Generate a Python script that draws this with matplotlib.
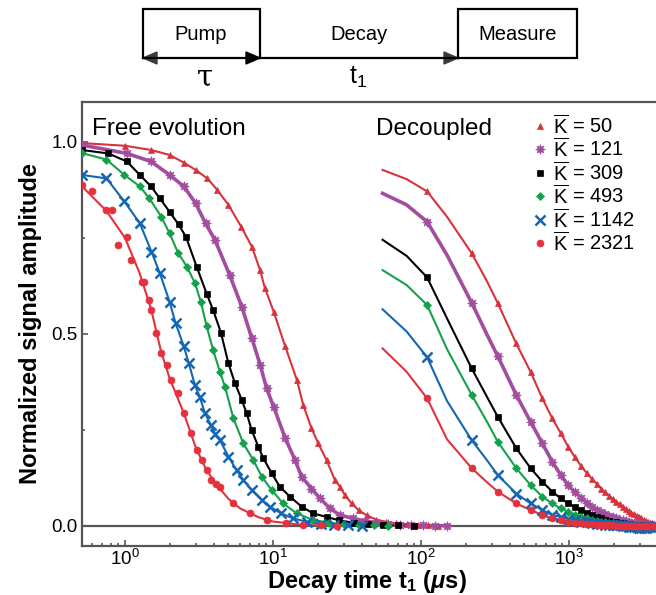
import numpy as np
import matplotlib
matplotlib.use("Agg")
import matplotlib.pyplot as plt
from matplotlib.patches import Polygon

plt.rcParams['font.family'] = ['Liberation Sans', 'DejaVu Sans']
plt.rcParams['mathtext.fontset'] = 'custom'
plt.rcParams['mathtext.rm'] = 'Liberation Sans'
plt.rcParams['mathtext.it'] = 'Liberation Sans:italic'
plt.rcParams['mathtext.bf'] = 'Liberation Sans:bold'
plt.rcParams['mathtext.bfit'] = 'Liberation Sans:bold:italic'

# ---------------- data ----------------
labels = ["50", "121", "309", "493", "1142", "2321"]
colors = ["#d8323c", "#a24d9f", "#000000", "#15a04a", "#1466b3", "#e3313d"]
markers = ["^", (8, 1, 0), "s", "D", "x", "o"]

# Free evolution (markers)
free_t_50 = [0.51, 1.0, 1.5, 2.0, 2.5, 3.0, 3.6, 4.2, 5.0, 6.1, 7.2, 8.2, 8.8, 10.1, 12.1, 14.5, 16.0, 18.2,
             20.2, 23.0, 26.2, 28.3, 30.6, 34.0, 38, 43, 50, 58, 68, 80, 95, 112, 130]
free_v_50 = [0.997, 0.99, 0.979, 0.966, 0.946, 0.927, 0.905, 0.875, 0.836, 0.779, 0.727, 0.665, 0.62, 0.558,
             0.467, 0.38, 0.315, 0.254, 0.215, 0.171, 0.119, 0.102, 0.08, 0.058, 0.04, 0.027, 0.016, 0.01,
             0.006, 0.004, 0.002, 0.001, 0.0]
free_t_121 = [0.51, 1.03, 1.5, 2.0, 2.5, 3.0, 3.5, 4.05, 5.1, 6.15, 7.2, 8.2, 9.05, 10.1, 12.1, 14.1, 15.6,
              18.2, 20.8, 24.3, 28.3, 34.8, 42, 50, 60, 72, 86, 103, 125, 150]
free_v_121 = [0.992, 0.97, 0.949, 0.914, 0.884, 0.84, 0.788, 0.745, 0.653, 0.571, 0.488, 0.419, 0.358, 0.31,
              0.228, 0.171, 0.128, 0.097, 0.071, 0.045, 0.028, 0.019, 0.012, 0.008, 0.005, 0.003, 0.002,
              0.001, 0.0, 0.0]
free_t_309 = [0.51, 0.77, 1.03, 1.26, 1.5, 1.72, 2.0, 2.3, 2.58, 3.05, 3.56, 3.94, 4.45, 5.0, 5.54, 6.15,
              6.64, 7.18, 7.96, 8.6, 9.8, 11.1, 13.0, 15.6, 18.7, 23, 28, 35, 44, 55, 70, 90]
free_v_309 = [0.979, 0.97, 0.949, 0.914, 0.884, 0.853, 0.818, 0.785, 0.753, 0.675, 0.605, 0.562, 0.503,
              0.423, 0.371, 0.328, 0.293, 0.249, 0.206, 0.176, 0.137, 0.102, 0.076, 0.05, 0.032, 0.023,
              0.014, 0.008, 0.004, 0.002, 0.001, 0.0]
free_t_493 = [0.51, 0.75, 0.99, 1.26, 1.46, 1.76, 2.0, 2.29, 2.62, 2.97, 3.25, 3.56, 3.94, 4.38, 4.74, 5.4,
              6.3, 7.36, 8.4, 9.8, 11.7, 14.5, 18.7, 24, 30, 38, 48, 60]
free_v_493 = [0.971, 0.954, 0.914, 0.884, 0.853, 0.805, 0.762, 0.71, 0.675, 0.632, 0.584, 0.52, 0.458,
              0.401, 0.362, 0.28, 0.215, 0.171, 0.128, 0.093, 0.058, 0.032, 0.015, 0.008, 0.004, 0.002,
              0.001, 0.0]
free_t_1142 = [0.51, 0.75, 0.99, 1.26, 1.51, 1.72, 2.0, 2.2, 2.5, 2.7, 2.97, 3.2, 3.47, 3.8, 4.05, 4.38, 5.0,
               5.67, 6.3, 7.18, 8.4, 9.5, 11.4, 13.7, 17, 21, 26, 32, 40]
free_v_1142 = [0.914, 0.905, 0.845, 0.788, 0.714, 0.658, 0.584, 0.527, 0.467, 0.423, 0.366, 0.336, 0.293,
               0.263, 0.24, 0.223, 0.18, 0.145, 0.119, 0.093, 0.067, 0.05, 0.032, 0.019, 0.01, 0.005,
               0.002, 0.001, 0.0]
free_t_2321 = [0.51, 0.6, 0.75, 0.82, 0.9, 1.03, 1.1, 1.3, 1.35, 1.45, 1.5, 1.63, 1.76, 1.92, 2.04, 2.29,
               2.5, 2.8, 3.05, 3.3, 3.56, 3.8, 4.1, 4.38, 5.4, 7.0, 9.05, 12.3, 16, 21, 27]
free_v_2321 = [0.888, 0.871, 0.823, 0.823, 0.732, 0.753, 0.693, 0.636, 0.636, 0.589, 0.562, 0.501, 0.449,
               0.419, 0.38, 0.345, 0.293, 0.241, 0.197, 0.171, 0.145, 0.119, 0.108, 0.102, 0.058, 0.032,
               0.015, 0.006, 0.003, 0.001, 0.0]
# fit line for the scattered K=2321 free-evolution data
fit_t_2321 = [0.51, 0.75, 1.0, 1.25, 1.5, 1.75, 2.0, 2.5, 3.0, 3.5, 4.0, 5.0, 6.0, 8.0, 10, 15, 20, 30]
fit_v_2321 = [0.885, 0.82, 0.75, 0.66, 0.565, 0.455, 0.385, 0.293, 0.205, 0.15, 0.115, 0.07, 0.045, 0.022,
              0.011, 0.003, 0.001, 0.0]

free_t = [free_t_50, free_t_121, free_t_309, free_t_493, free_t_1142, free_t_2321]
free_v = [free_v_50, free_v_121, free_v_309, free_v_493, free_v_1142, free_v_2321]

# Decoupled (markers)
dec_t = [110, 220, 330, 440, 550, 660, 770, 880, 990, 1100, 1210, 1320, 1430, 1540, 1650, 1760, 1870,
         1980, 2090, 2200, 2310, 2420, 2530, 2640, 2750, 2860, 2970, 3080, 3190, 3300, 3410, 3520, 3630,
         3740, 3850]
dec_v_50 = [0.871, 0.71, 0.58, 0.475, 0.401, 0.332, 0.28, 0.241, 0.205, 0.178, 0.155, 0.137, 0.122, 0.109,
            0.097, 0.087, 0.078, 0.07, 0.063, 0.056, 0.05, 0.044, 0.039, 0.034, 0.03, 0.026, 0.022, 0.019,
            0.016, 0.013, 0.01, 0.008, 0.006, 0.004, 0.002]
dec_v_121 = [0.792, 0.581, 0.442, 0.341, 0.271, 0.215, 0.167, 0.132, 0.105, 0.087, 0.072, 0.06, 0.05,
             0.042, 0.036, 0.031, 0.026, 0.022, 0.019, 0.016, 0.014, 0.012, 0.01, 0.008, 0.007, 0.006,
             0.005, 0.004, 0.003, 0.002, 0.002, 0.001, 0.001, 0.0, 0.0]
dec_v_309 = [0.647, 0.41, 0.284, 0.202, 0.15, 0.115, 0.089, 0.071, 0.058, 0.048, 0.04, 0.033, 0.028,
             0.023, 0.019, 0.016, 0.013, 0.011, 0.009, 0.008, 0.006, 0.005, 0.004, 0.003, 0.003, 0.002,
             0.002, 0.001, 0.001, 0.0, 0.0, 0.0, 0.0, 0.0, 0.0]
dec_v_493 = [0.575, 0.341, 0.219, 0.15, 0.106, 0.076, 0.058, 0.045, 0.036, 0.029, 0.024, 0.019, 0.016,
             0.013, 0.011, 0.009, 0.007, 0.006, 0.005, 0.004, 0.003, 0.002, 0.002, 0.001, 0.001, 0.0, 0.0,
             0.0, 0.0, 0.0, 0.0, 0.0, 0.0, 0.0, 0.0]
dec_v_1142 = [0.439, 0.223, 0.132, 0.084, 0.058, 0.041, 0.028, 0.023, 0.018, 0.014, 0.011, 0.009, 0.007,
              0.005, 0.004, 0.003, 0.002, 0.002, 0.001, 0.001, 0.0, 0.0, -0.002, -0.003, -0.004, -0.004,
              -0.005, -0.005, -0.005, -0.005, -0.004, -0.003, -0.002, -0.001, 0.0]
dec_v_2321 = [0.332, 0.15, 0.089, 0.058, 0.041, 0.028, 0.019, 0.015, 0.011, 0.008, 0.006, 0.005, 0.004,
              0.003, 0.002, 0.002, 0.001, 0.001, 0.0, 0.0, 0.0, 0.0, 0.0, 0.0, 0.0, 0.0, 0.0, 0.0, 0.0,
              0.0, 0.0, 0.0, 0.0, 0.0, 0.0]
dec_v = [dec_v_50, dec_v_121, dec_v_309, dec_v_493, dec_v_1142, dec_v_2321]

# Decoupled fit lines: extra points (line start and between early markers)
fitx_t = [55, 80, 150, 280]
fitx_v_50 = [0.927, 0.903, 0.805, 0.636]
fitx_v_121 = [0.866, 0.836, 0.705, 0.497]
fitx_v_309 = [0.745, 0.703, 0.54, 0.335]
fitx_v_493 = [0.666, 0.627, 0.46, 0.27]
fitx_v_1142 = [0.564, 0.506, 0.325, 0.17]
fitx_v_2321 = [0.462, 0.401, 0.225, 0.113]
fitx_v = [fitx_v_50, fitx_v_121, fitx_v_309, fitx_v_493, fitx_v_1142, fitx_v_2321]

# ---------------- figure ----------------
W, H = 656, 595
fig = plt.figure(figsize=(W / 100, H / 100), dpi=100)

ax_l, ax_r, ax_t, ax_b = 81.7, 660, 102, 545.7
ax = fig.add_axes([ax_l / W, 1 - ax_b / H, (ax_r - ax_l) / W, (ax_b - ax_t) / H])
ax.set_xscale('log')
ax.set_xlim(0.51, 10 ** ((ax_r - 125) / 148))
ax.set_ylim(-0.052, 1.104)

gray = "#555555"
ax.axhline(0, color=gray, lw=1.6, zorder=1)

msizes = [5, 7, 4.5, 4.5, 7, 5]
lws = [1.5, 2.6, 1.5, 1.5, 1.5, 1.5]
for i in range(6):
    c = colors[i]
    mk = markers[i]
    mew = 1.8 if mk == "x" else 0.5
    # free evolution
    if i == 5:
        ax.plot(fit_t_2321, fit_v_2321, color=c, lw=lws[i], zorder=3)
    else:
        ax.plot(free_t[i], free_v[i], color=c, lw=lws[i], zorder=3)
    ax.plot(free_t[i], free_v[i], ls='none', marker=mk, ms=msizes[i], color=c, mec=c, mew=mew, zorder=4)
    # decoupled
    lt = [fitx_t[0], fitx_t[1], dec_t[0], fitx_t[2], dec_t[1], fitx_t[3]] + dec_t[2:]
    lv = [fitx_v[i][0], fitx_v[i][1], dec_v[i][0], fitx_v[i][2], dec_v[i][1], fitx_v[i][3]] + dec_v[i][2:]
    ax.plot(lt, lv, color=c, lw=lws[i], zorder=3)
    ax.plot(dec_t, dec_v[i], ls='none', marker=mk, ms=msizes[i], color=c, mec=c, mew=mew, zorder=4)

for s in ['left', 'bottom', 'top']:
    ax.spines[s].set_color(gray)
    ax.spines[s].set_linewidth(1.6)
ax.spines['right'].set_visible(False)

ax.set_yticks([0.0, 0.5, 1.0])
ax.set_yticks([0.25, 0.75], minor=True)
ax.set_yticklabels(["0.0", "0.5", "1.0"])
ax.set_xticks([1, 10, 100, 1000])
ax.set_xticklabels([r"$10^0$", r"$10^1$", r"$10^2$", r"$10^3$"])
ax.tick_params(axis='both', which='both', direction='in', color=gray, width=1.2)
ax.tick_params(axis='both', which='major', length=4, labelsize=13.5)
ax.tick_params(axis='both', which='minor', length=2.5)
ax.tick_params(axis='y', which='major', pad=3)
ax.tick_params(axis='x', which='major', pad=2)

ax.set_xlabel(r"Decay time t$_\mathbf{1}$ ($\mathbfit{\mu}$s)", fontsize=17, fontweight='bold')
ax.set_ylabel("Normalized signal amplitude", fontsize=17, fontweight='bold')
ax.xaxis.set_label_coords((367 - ax_l) / (ax_r - ax_l), (ax_b - 568) / (ax_b - ax_t))
ax.yaxis.set_label_coords((42 - ax_l) / (ax_r - ax_l), 0.5)

ax.text((92 - ax_l) / (ax_r - ax_l), (ax_b - 135) / (ax_b - ax_t), "Free evolution", transform=ax.transAxes,
        fontsize=17.5, va='baseline', ha='left')
ax.text((376 - ax_l) / (ax_r - ax_l), (ax_b - 135) / (ax_b - ax_t), "Decoupled", transform=ax.transAxes,
        fontsize=17.5, va='baseline', ha='left')

# legend
for i in range(6):
    yl = 126 + i * 23.4
    fy = 1 - yl / H
    fig.lines.append(plt.Line2D([540 / W], [fy], transform=fig.transFigure, ls='none', marker=markers[i],
                                ms=msizes[i], color=colors[i], mec=colors[i],
                                mew=1.8 if markers[i] == "x" else 0.5))
    fig.text(553 / W, fy, r"$\overline{\mathrm{K}}$ = " + labels[i], fontsize=14.5, va='center', ha='left')

# ---------------- top schematic ----------------
dax = fig.add_axes([0, 0, 1, 1], zorder=-1)
dax.set_xlim(0, W)
dax.set_ylim(H, 0)
dax.axis('off')
lwd = 1.6
dax.plot([143, 143, 260, 260], [58, 9, 9, 58], color='black', lw=lwd, solid_joinstyle='miter')
dax.plot([143, 458], [58, 58], color='black', lw=lwd)
dax.plot([458, 458, 577, 577, 458], [58, 9, 9, 58, 58], color='black', lw=lwd, solid_joinstyle='miter')
dax.add_patch(Polygon([[143, 58], [157, 52], [157, 64]], closed=True, color='#3c3c3c'))
dax.add_patch(Polygon([[260, 58], [246, 52], [246, 64]], closed=True, color='black'))
dax.add_patch(Polygon([[458, 58], [444, 52], [444, 64]], closed=True, color='#3c3c3c'))
dax.text(201, 34, "Pump", fontsize=14.5, ha='center', va='center')
dax.text(359, 34, "Decay", fontsize=14.5, ha='center', va='center')
dax.text(518, 34, "Measure", fontsize=14.5, ha='center', va='center')
dax.text(205, 77, "τ", fontsize=21, ha='center', va='center', family='DejaVu Serif')
dax.text(358, 77, r"t$_1$", fontsize=18, ha='center', va='center')

fig.savefig("out.png", dpi=100)
